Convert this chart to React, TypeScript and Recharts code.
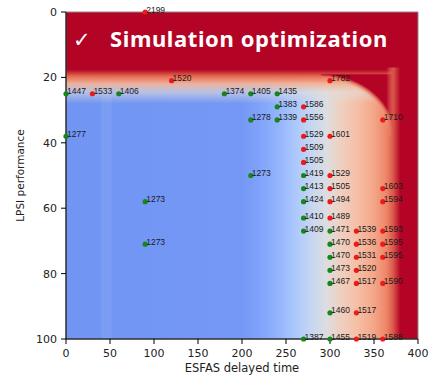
import React from 'react'
import {
  ScatterChart, Scatter, XAxis, YAxis, ReferenceArea
} from 'recharts'

// points: x = ESFAS delay, y = LPSI performance, v = label
const greenPoints = [
  { x: 0, y: 25, v: 1447 }, { x: 60, y: 25, v: 1406 }, { x: 180, y: 25, v: 1374 },
  { x: 210, y: 25, v: 1405 }, { x: 240, y: 25, v: 1435 }, { x: 240, y: 29, v: 1383 },
  { x: 210, y: 33, v: 1278 }, { x: 240, y: 33, v: 1339 }, { x: 0, y: 38, v: 1277 },
  { x: 210, y: 50, v: 1273 }, { x: 270, y: 50, v: 1419 }, { x: 270, y: 54, v: 1413 },
  { x: 270, y: 58, v: 1424 }, { x: 90, y: 58, v: 1273 }, { x: 270, y: 63, v: 1410 },
  { x: 270, y: 67, v: 1409 }, { x: 300, y: 67, v: 1471 }, { x: 90, y: 71, v: 1273 },
  { x: 300, y: 71, v: 1470 }, { x: 300, y: 75, v: 1470 }, { x: 300, y: 79, v: 1473 },
  { x: 300, y: 83, v: 1467 }, { x: 300, y: 92, v: 1460 }, { x: 270, y: 100, v: 1387 },
  { x: 300, y: 100, v: 1455 },
]

const redPoints = [
  { x: 90, y: 0, v: 2199 }, { x: 120, y: 21, v: 1520 }, { x: 300, y: 21, v: 1782 },
  { x: 30, y: 25, v: 1533 }, { x: 270, y: 29, v: 1586 }, { x: 270, y: 33, v: 1556 },
  { x: 360, y: 33, v: 1710 }, { x: 270, y: 38, v: 1529 }, { x: 300, y: 38, v: 1601 },
  { x: 270, y: 42, v: 1509 }, { x: 270, y: 46, v: 1505 }, { x: 300, y: 50, v: 1529 },
  { x: 300, y: 54, v: 1505 }, { x: 360, y: 54, v: 1603 }, { x: 300, y: 58, v: 1494 },
  { x: 360, y: 58, v: 1594 }, { x: 300, y: 63, v: 1489 }, { x: 330, y: 67, v: 1539 },
  { x: 360, y: 67, v: 1593 }, { x: 330, y: 71, v: 1536 }, { x: 360, y: 71, v: 1595 },
  { x: 330, y: 75, v: 1531 }, { x: 360, y: 75, v: 1595 }, { x: 330, y: 79, v: 1520 },
  { x: 330, y: 83, v: 1517 }, { x: 360, y: 83, v: 1590 }, { x: 330, y: 92, v: 1517 },
  { x: 330, y: 100, v: 1519 }, { x: 360, y: 100, v: 1588 },
]

const xTicks = [0, 50, 100, 150, 200, 250, 300, 350, 400]
const yTicks = [0, 20, 40, 60, 80, 100]

const RED = '#b40426'

const dot = (color: string) => (props: any) => {
  const { cx, cy, payload } = props
  return (
    <g>
      <circle cx={cx} cy={cy} r={2.6} fill={color} />
      <text x={cx + 1} y={cy + 0.5} fontSize={8.5} fill="#1a1a1a" fontFamily="'Liberation Sans', Arial, sans-serif">
        {payload.v}
      </text>
    </g>
  )
}

const tickStyle = { fontSize: 11, fill: '#222', fontFamily: "'DejaVu Sans', sans-serif" }

export default function App() {
  return (
    <div style={{ position: 'absolute', left: 0, top: 0, width: 430, height: 379, background: '#fff' }}>
      <ScatterChart width={430} height={379} margin={{ top: 12, right: 12, bottom: 4, left: 15 }}>
        <defs>
          <linearGradient id="horiz" x1="0" y1="0" x2="1" y2="0">
            <stop offset="0" stopColor="#7195f3" />
            <stop offset="0.5" stopColor="#7598f6" />
            <stop offset="0.55" stopColor="#80a2fa" />
            <stop offset="0.6" stopColor="#92b3fd" />
            <stop offset="0.65" stopColor="#abc7fc" />
            <stop offset="0.7" stopColor="#c8d7f0" />
            <stop offset="0.74" stopColor="#dcdde0" />
            <stop offset="0.78" stopColor="#efd0c0" />
            <stop offset="0.83" stopColor="#f5bea5" />
            <stop offset="0.875" stopColor="#f4a688" />
            <stop offset="0.91" stopColor="#ee8669" />
            <stop offset="0.93" stopColor="#d9574a" />
            <stop offset="0.95" stopColor={RED} />
            <stop offset="1" stopColor={RED} />
          </linearGradient>
          <linearGradient id="rightstrip" x1="0" y1="0" x2="1" y2="0">
            <stop offset="0" stopColor="#ee8669" stopOpacity={0} />
            <stop offset="0.22" stopColor="#d9574a" />
            <stop offset="0.44" stopColor={RED} />
            <stop offset="1" stopColor={RED} />
          </linearGradient>
          <linearGradient id="topband" x1="0" y1="0" x2="0" y2="1">
            <stop offset="0" stopColor={RED} />
            <stop offset="0.63" stopColor={RED} />
            <stop offset="0.7" stopColor="#e4694f" />
            <stop offset="0.78" stopColor="#f4b093" stopOpacity={0.95} />
            <stop offset="0.88" stopColor="#e2dcd8" stopOpacity={0.6} />
            <stop offset="1" stopColor="#dddddd" stopOpacity={0} />
          </linearGradient>
          <radialGradient id="corner" cx="0" cy="1" r="1" fx="0" fy="1">
            <stop offset="0" stopColor="#f4b89c" stopOpacity={0} />
            <stop offset="0.9" stopColor="#f4b89c" stopOpacity={0} />
            <stop offset="0.96" stopColor="#e4705a" stopOpacity={0.9} />
            <stop offset="1" stopColor={RED} />
          </radialGradient>
        </defs>
        <XAxis
          type="number" dataKey="x" domain={[0, 400]} ticks={xTicks}
          tickSize={5} tickMargin={5} height={36} tick={tickStyle}
          axisLine={{ stroke: '#000' }} tickLine={{ stroke: '#000' }}
          label={{ value: 'ESFAS delayed time', position: 'insideBottom', offset: 3, style: { fontSize: 11.5, fill: '#222', fontFamily: "'DejaVu Sans', sans-serif" } }}
        />
        <YAxis
          type="number" dataKey="y" domain={[0, 100]} ticks={yTicks} reversed
          tickSize={5} tickMargin={4} width={51} tick={tickStyle}
          axisLine={{ stroke: '#000' }} tickLine={{ stroke: '#000' }}
          label={{ value: 'LPSI performance', angle: -90, position: 'insideLeft', offset: 5, style: { textAnchor: 'middle', fontSize: 10.5, fill: '#222', fontFamily: "'DejaVu Sans', sans-serif" } }}
        />
        {/* heatmap background */}
        <ReferenceArea x1={0} x2={400} y1={0} y2={100} fill="url(#horiz)" fillOpacity={1} />
        <ReferenceArea x1={40} x2={52} y1={20} y2={100} fill="#ffffff" fillOpacity={0.07} />
        <ReferenceArea x1={0} x2={400} y1={0} y2={28} fill="url(#topband)" fillOpacity={1} />
        <ReferenceArea x1={290} x2={374} y1={19} y2={38} fill="url(#corner)" fillOpacity={1} />
        <ReferenceArea x1={364} x2={400} y1={17} y2={100} fill="url(#rightstrip)" fillOpacity={1} />
        <ReferenceArea x1={0} x2={400} y1={0} y2={100} fill="none" stroke="#8a8a8a" strokeWidth={1} />
        <Scatter data={greenPoints} shape={dot('#13871a')} isAnimationActive={false} />
        <Scatter data={redPoints} shape={dot('#ee1a1a')} isAnimationActive={false} />
      </ScatterChart>
      <svg width={430} height={80} style={{ position: 'absolute', left: 0, top: 0, pointerEvents: 'none' }}>
        <text x={73} y={47} fill="#fff" fontSize={21} fontFamily="'DejaVu Sans', sans-serif">✓</text>
        <text x={110} y={47} fill="#fff" fontSize={22} fontWeight={700} letterSpacing={0.6} fontFamily="'Noto Sans', sans-serif">
          Simulation optimization
        </text>
      </svg>
    </div>
  )
}
